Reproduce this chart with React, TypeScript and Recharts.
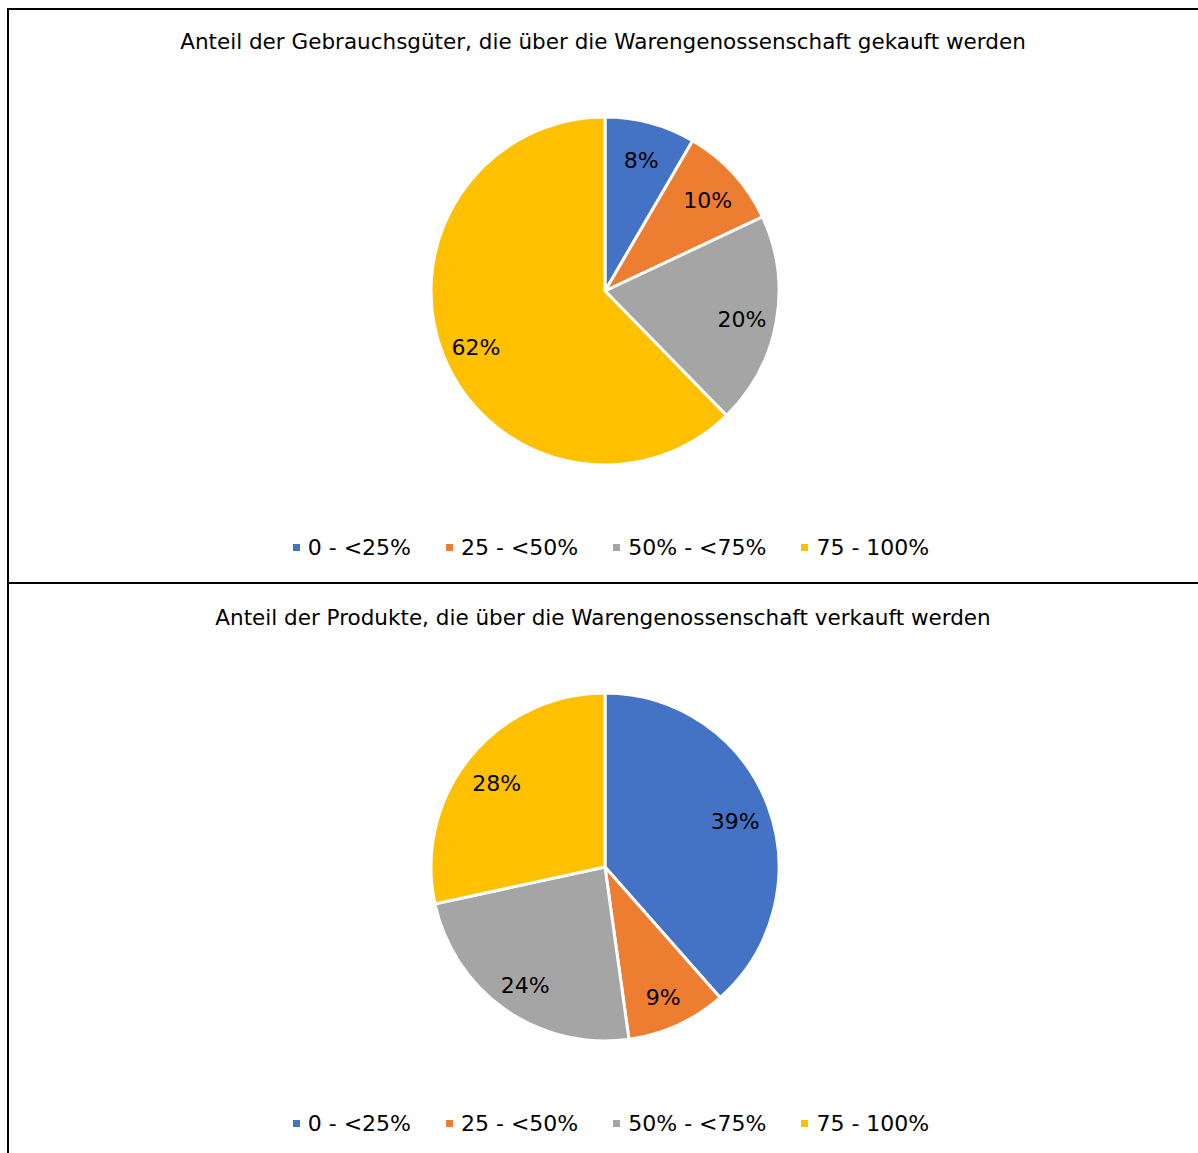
import { PieChart, Pie, Cell, Legend } from "recharts";

const categories = ["0 - <25%", "25 - <50%", "50% - <75%", "75 - 100%"];
const colors = ["#4472C4", "#ED7D31", "#A5A5A5", "#FFC000"];

const title1 = "Anteil der Gebrauchsgüter, die über die Warengenossenschaft gekauft werden";
const values1 = [8.4, 9.6, 19.7, 62.3];

const title2 = "Anteil der Produkte, die über die Warengenossenschaft verkauft werden";
const values2 = [38.5, 9.3, 23.8, 28.4];

const FONT = "Verdana, 'DejaVu Sans', sans-serif";
const W = 1190;
const H = 575;
const RAD = Math.PI / 180;

const renderLabel = (props: any) => {
  const { cx, cy, midAngle, outerRadius, value } = props;
  const r = outerRadius * 0.8;
  const x = cx + r * Math.cos(-midAngle * RAD);
  const y = cy + r * Math.sin(-midAngle * RAD) + 4;
  return (
    <text
      x={x}
      y={y}
      fill="#000"
      fontSize={22}
      fontFamily={FONT}
      textAnchor="middle"
      dominantBaseline="central"
    >
      {Math.round(value)}%
    </text>
  );
};

const LegendContent = () => (
  <div
    style={{
      display: "flex",
      justifyContent: "center",
      alignItems: "center",
      paddingLeft: 16,
      fontFamily: FONT,
      fontSize: 22,
      color: "#000",
    }}
  >
    {categories.map((c, i) => (
      <div key={c} style={{ display: "flex", alignItems: "center", marginRight: i < 3 ? 35 : 0 }}>
        <span style={{ width: 7, height: 7, background: colors[i], marginRight: 8, display: "inline-block" }} />
        <span>{c}</span>
      </div>
    ))}
  </div>
);

function Panel({ title, values, top }: { title: string; values: number[]; top: number }) {
  const data = categories.map((name, i) => ({ name, value: values[i] }));
  return (
    <div style={{ position: "absolute", left: 8, top, width: W, height: H }}>
      <div
        style={{
          position: "absolute",
          top: 21,
          left: 0,
          width: W,
          textAlign: "center",
          fontFamily: FONT,
          fontSize: 21.5,
          color: "#000",
        }}
      >
        {title}
      </div>
      <PieChart width={W} height={H} margin={{ top: 0, right: 0, bottom: 0, left: 0 }}>
        <Pie
          data={data}
          dataKey="value"
          nameKey="name"
          cx={597}
          cy={283}
          outerRadius={174}
          startAngle={90}
          endAngle={-270}
          stroke="#fff"
          strokeWidth={3}
          label={renderLabel}
          labelLine={false}
          isAnimationActive={false}
        >
          {data.map((d, i) => (
            <Cell key={d.name} fill={colors[i]} />
          ))}
        </Pie>
        <Legend content={<LegendContent />} wrapperStyle={{ top: 527, left: 0, width: W }} />
      </PieChart>
    </div>
  );
}

export default function App() {
  return (
    <div style={{ position: "fixed", left: 0, top: 0, width: 1198, height: 1153, overflow: "hidden", background: "#fff" }}>
      <div style={{ position: "absolute", left: 7, top: 8, width: 2, height: 1145, background: "#000" }} />
      <div style={{ position: "absolute", left: 7, top: 8, width: 1191, height: 2, background: "#000" }} />
      <div style={{ position: "absolute", left: 7, top: 582, width: 1191, height: 2, background: "#000" }} />
      <Panel title={title1} values={values1} top={8} />
      <Panel title={title2} values={values2} top={584} />
    </div>
  );
}
